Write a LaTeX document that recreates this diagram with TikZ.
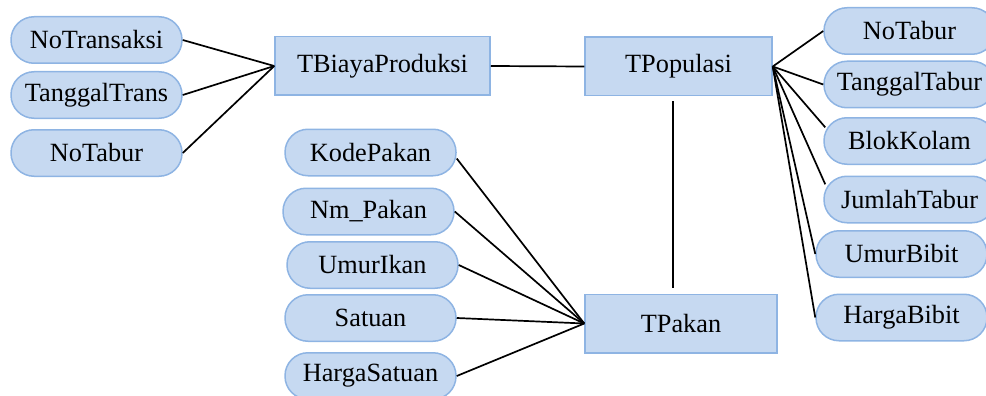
\documentclass[tikz,border=0pt]{standalone}
\usepackage{fontspec}
\newfontfamily\tnr{Liberation Serif}
\definecolor{pillfill}{RGB}{198,217,241}
\definecolor{pilledge}{RGB}{142,180,227}
\tikzset{
  attr/.style={draw=pilledge, fill=pillfill, line width=1.5pt, rectangle, rounded corners=23pt,
    minimum width=171pt, minimum height=46.5pt, inner sep=0pt,
    font=\tnr\fontsize{26.3}{30}\selectfont},
  entity/.style={draw=pilledge, fill=pillfill, line width=1.5pt, rectangle,
    minimum height=58.5pt, inner sep=0pt, font=\tnr\fontsize{26.3}{30}\selectfont},
  link/.style={draw=black, line width=1.7pt}}
\begin{document}
\begin{tikzpicture}[x=1pt,y=-1pt]
\useasboundingbox (0,0) rectangle (986,396);
% entities
\node[entity, minimum width=215pt] (tb) at (382.5,66) {TBiayaProduksi};
\node[entity, minimum width=187pt] (tp) at (678.5,66.5) {TPopulasi};
\node[entity, minimum width=192pt] (tk) at (681,323.5) {TPakan};
% left attributes
\node[attr] (ntr) at (96.5,40) {NoTransaksi};
\node[attr] (tgt) at (96.5,95) {TanggalTrans};
\node[attr] (ntb) at (96.5,153) {NoTabur};
% middle attributes
\node[attr] (kp) at (370.5,152.5) {KodePakan};
\node[attr] (nm) at (368.5,211.5) {Nm\_Pakan};
\node[attr] (ui) at (372.5,265) {UmurIkan};
\node[attr] (st) at (370.5,318) {Satuan};
\node[attr] (hs) at (370.5,376) {HargaSatuan};
% right attributes
\node[attr] (rnt) at (909.5,31) {NoTabur};
\node[attr] (rtg) at (909.5,84.5) {TanggalTabur};
\node[attr] (rbk) at (909.5,141) {BlokKolam};
\node[attr] (rjt) at (909.5,199.5) {JumlahTabur};
\node[attr] (rub) at (901.5,254) {UmurBibit};
\node[attr] (rhb) at (901.5,317.5) {HargaBibit};
% links
\draw[link] (ntr.east) -- (tb.west);
\draw[link] (tgt.east) -- (tb.west);
\draw[link] (ntb.east) -- (tb.west);
\draw[link] (tb.east) -- (tp.west);
\draw[link] ([xshift=-5.5pt,yshift=-5pt]tp.south) -- ([xshift=-8pt,yshift=6pt]tk.north);
\draw[link] (kp.-4) -- (tk.west);
\draw[link] (nm.east) -- (tk.west);
\draw[link] (ui.east) -- (tk.west);
\draw[link] (st.east) -- (tk.west);
\draw[link] (hs.east) -- (tk.west);
\draw[link] (tp.east) -- (rnt.west);
\draw[link] (tp.east) -- (rtg.west);
\draw[link] (tp.east) -- ([xshift=2pt]rbk.171);
\draw[link] (tp.east) -- ([xshift=2pt]rjt.170);
\draw[link] (tp.east) -- (rub.west);
\draw[link] (tp.east) -- (rhb.west);
\end{tikzpicture}
\end{document}
